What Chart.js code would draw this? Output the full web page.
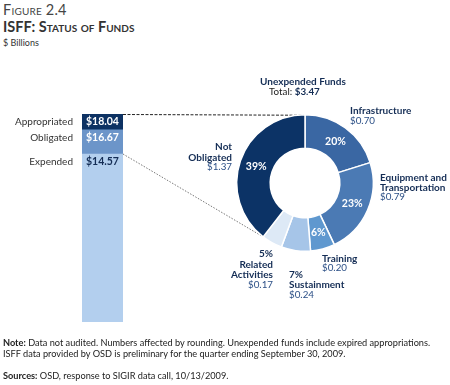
<!DOCTYPE html>
<html>
<head>
<meta charset="utf-8">
<script src="https://cdn.jsdelivr.net/npm/chart.js@4.4.0/dist/chart.umd.min.js"></script>
<style>
  body { margin: 0; width: 450px; height: 385px; background: #fff; font-family: Lato, "Open Sans", sans-serif; position: relative; overflow: hidden; }
  canvas { position: absolute; left: 0; top: 0; }
  .t { position: absolute; white-space: nowrap; line-height: 1; }
  .lbl { color: #142d55; font-size: 10px; font-weight: bold; }
  .val { color: #2b4f86; font-size: 9.8px; }
  .r { text-align: right; }
  .note { color: #222; font-size: 9.2px; left: 3px; }
</style>
</head>
<body>
<div class="t" style="left:3px;top:3px;font-size:14.5px;color:#444;font-variant:small-caps;letter-spacing:0.2px">Figure 2.4</div>
<div class="t" style="left:3px;top:20px;font-size:14.5px;color:#333;font-weight:bold;font-variant:small-caps">ISFF: Status of Funds</div>
<div class="t" style="left:3px;top:38px;font-size:9px;color:#333">$ Billions</div>

<canvas id="bar" width="450" height="385"></canvas>
<canvas id="donut" width="450" height="385"></canvas>

<div class="t lbl" style="left:260px;top:76px">Unexpended Funds</div>
<div class="t val" style="left:269px;top:87px;color:#222">Total: <b style="color:#142d55">$3.47</b></div>

<div class="t lbl" style="left:350px;top:105px">Infrastructure</div>
<div class="t val" style="left:350px;top:116px">$0.70</div>

<div class="t lbl" style="left:380px;top:172px">Equipment and</div>
<div class="t lbl" style="left:380px;top:182px">Transportation</div>
<div class="t val" style="left:380px;top:192px">$0.79</div>

<div class="t lbl" style="left:322px;top:253px">Training</div>
<div class="t val" style="left:322px;top:263px">$0.20</div>

<div class="t lbl" style="left:289px;top:269px">7%</div>
<div class="t lbl" style="left:289px;top:279px">Sustainment</div>
<div class="t val" style="left:289px;top:290px">$0.24</div>

<div class="t lbl r" style="right:177px;top:248px">5%</div>
<div class="t lbl r" style="right:177px;top:259px">Related</div>
<div class="t lbl r" style="right:177px;top:269px">Activities</div>
<div class="t val r" style="right:177px;top:280px">$0.17</div>

<div class="t lbl r" style="right:218px;top:141px">Not</div>
<div class="t lbl r" style="right:218px;top:152px">Obligated</div>
<div class="t val r" style="right:218px;top:162px">$1.37</div>

<div class="t note" style="top:338px"><b>Note:</b> Data not audited. Numbers affected by rounding. Unexpended funds include expired appropriations.</div>
<div class="t note" style="top:349px">ISFF data provided by OSD is preliminary for the quarter ending September 30, 2009.</div>
<div class="t note" style="top:371px"><b>Sources:</b> OSD, response to SIGIR data call, 10/13/2009.</div>

<script>
// bar: cumulative status levels, bottom to top
var barLabels = ['Expended', 'Obligated', 'Appropriated'];
var barTotals = [14.57, 16.67, 18.04];
var barColors = ['#b3cfee', '#6c95c9', '#0d3263'];
var barTextColors = ['#142d55', '#ffffff', '#ffffff'];

// donut: unexpended funds by category
var fundLabels = ['Infrastructure', 'Equipment and Transportation', 'Training', 'Sustainment', 'Related Activities', 'Not Obligated'];
var fundValues = [0.70, 0.79, 0.20, 0.24, 0.17, 1.37];
var fundColors = ['#3a67a3', '#4b7ab4', '#5f98cf', '#a6c5e8', '#dde9f6', '#0c3366'];
var showPct = [true, true, true, false, false, true];

var font = 'Lato, "Open Sans", sans-serif';

var barDatasets = barTotals.map(function(v, i) {
  return {
    label: barLabels[i],
    data: [i === 0 ? v : +(v - barTotals[i - 1]).toFixed(2)],
    backgroundColor: barColors[i],
    borderWidth: 0
  };
});

var barText = {
  id: 'barText',
  afterDatasetsDraw: function(chart) {
    var ctx = chart.ctx;
    ctx.save();
    ctx.textBaseline = 'middle';
    chart.data.datasets.forEach(function(ds, i) {
      var el = chart.getDatasetMeta(i).data[0];
      var y = el.y + 8;
      var left = el.x - el.width / 2;
      ctx.font = '10px ' + font;
      ctx.fillStyle = '#333';
      ctx.textAlign = 'right';
      ctx.fillText(barLabels[i], left - 9, y);
      ctx.font = 'bold 10.5px ' + font;
      ctx.fillStyle = barTextColors[i];
      ctx.textAlign = 'left';
      ctx.fillText('$' + barTotals[i].toFixed(2), left + 4, y);
    });
    ctx.restore();
  }
};

var barChart = new Chart(document.getElementById('bar'), {
  type: 'bar',
  data: { labels: [''], datasets: barDatasets },
  options: {
    responsive: false,
    animation: false,
    layout: { padding: { left: 82, right: 327, top: 114, bottom: 63 } },
    plugins: { legend: { display: false }, tooltip: { enabled: false } },
    scales: {
      x: { display: false, stacked: true },
      y: { display: false, stacked: true, min: 0, max: barTotals[barTotals.length - 1] }
    },
    datasets: { bar: { barPercentage: 1, categoryPercentage: 1 } }
  },
  plugins: [barText]
});

var total = fundValues.reduce(function(a, b) { return a + b; }, 0);

var connectors = {
  id: 'connectors',
  beforeDatasetsDraw: function(chart) {
    var ctx = chart.ctx;
    var arcs = chart.getDatasetMeta(0).data;
    var a0 = arcs[0];
    var bars = barChart.getDatasetMeta(2).data[0];
    var exp = barChart.getDatasetMeta(0).data[0];
    var right = bars.x + bars.width / 2;
    ctx.save();
    // top of bar to top of donut
    ctx.strokeStyle = '#222';
    ctx.lineWidth = 1;
    ctx.setLineDash([3, 1.5]);
    ctx.beginPath();
    ctx.moveTo(right, bars.y + 0.5);
    ctx.lineTo(a0.x, a0.y - a0.outerRadius + 0.5);
    ctx.stroke();
    // expended level to end of donut
    var last = arcs[arcs.length - 1];
    var ang = last.startAngle;
    ctx.strokeStyle = '#777';
    ctx.setLineDash([1.5, 1.5]);
    ctx.beginPath();
    ctx.moveTo(right, exp.y);
    ctx.lineTo(last.x + Math.cos(ang) * last.outerRadius, last.y + Math.sin(ang) * last.outerRadius);
    ctx.stroke();
    ctx.restore();
  },
  afterDatasetsDraw: function(chart) {
    var ctx = chart.ctx;
    ctx.save();
    ctx.font = 'bold 10.5px ' + font;
    ctx.fillStyle = '#fff';
    ctx.textAlign = 'center';
    ctx.textBaseline = 'middle';
    chart.getDatasetMeta(0).data.forEach(function(arc, i) {
      if (!showPct[i]) return;
      var p = arc.tooltipPosition();
      ctx.fillText(Math.round(fundValues[i] / total * 100) + '%', p.x, p.y);
    });
    ctx.restore();
  }
};

new Chart(document.getElementById('donut'), {
  type: 'doughnut',
  data: {
    labels: fundLabels,
    datasets: [{
      data: fundValues,
      backgroundColor: fundColors,
      borderColor: '#ffffff',
      borderWidth: 1.5
    }]
  },
  options: {
    responsive: false,
    animation: false,
    cutout: '51%',
    layout: { padding: { left: 236, right: 76, top: 114, bottom: 133 } },
    plugins: { legend: { display: false }, tooltip: { enabled: false } }
  },
  plugins: [connectors]
});
</script>
</body>
</html>
